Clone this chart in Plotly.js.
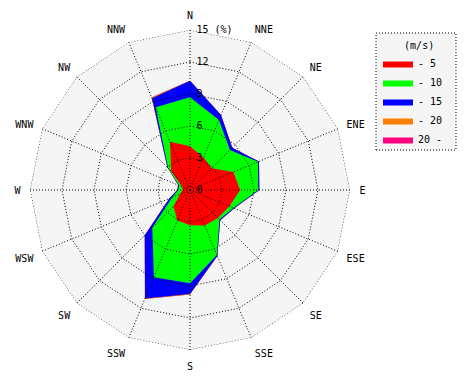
<!DOCTYPE html>
<html>
<head>
<meta charset="utf-8">
<script src="https://cdn.plot.ly/plotly-3.0.1.min.js"></script>
<style>html,body{margin:0;padding:0;background:#fff;}#chart{width:470px;height:380px;}</style>
</head>
<body>
<div id="chart"></div>
<script>
// 16 wind directions
const directions = ['N','NNE','NE','ENE','E','ESE','SE','SSE','S','SSW','SW','WSW','W','WNW','NW','NNW'];
// cumulative frequency (%) by wind-speed class upper bound
const cumUpTo5  = [4.1, 3.3, 2.9, 4.4, 4.7, 4.0, 3.7, 3.6, 3.3, 3.1, 2.2, 1.0, 0.7, 0.8, 2.5, 4.9];
const cumUpTo10 = [8.7, 7.1, 5.3, 6.9, 6.4, 4.4, 3.9, 6.6, 8.75, 8.85, 5.0, 1.8, 1.1, 1.1, 2.9, 8.4];
const cumUpTo15 = [10.25, 7.6, 5.6, 7.0, 6.5, 4.5, 4.0, 6.7, 9.75, 11.0, 6.0, 2.1, 1.2, 1.2, 3.0, 9.3];
const cumUpTo20 = [10.25, 7.6, 5.6, 7.0, 6.5, 4.5, 4.0, 6.7, 9.8, 11.05, 6.0, 2.1, 1.2, 1.2, 3.0, 9.4];
const cumAll    = [10.25, 7.6, 5.6, 7.0, 6.5, 4.5, 4.0, 6.7, 9.8, 11.05, 6.0, 2.1, 1.2, 1.2, 3.0, 9.4];
const classNames = ['- 5', '- 10', '- 15', '- 20', '20 -'];
const classColors = ['#ff0000', '#00ff00', '#0000ff', '#ff8000', '#ff0080'];
const radialTicks = [0, 3, 6, 9, 12, 15];
const radialTickText = ['0', '3', '6', '9', '12', '15 (%)'];
const radialMax = 15;

const series = [cumUpTo5, cumUpTo10, cumUpTo15, cumUpTo20, cumAll];
const close = a => a.concat([a[0]]);
const thetaClosed = close(directions);

const traces = [];
for (let i = series.length - 1; i >= 0; i--) {
  traces.push({
    type: 'scatterpolar',
    mode: 'lines',
    r: close(series[i]),
    theta: thetaClosed,
    fill: 'toself',
    fillcolor: classColors[i],
    line: {color: classColors[i], width: 0},
    name: classNames[i],
    hoverinfo: 'skip'
  });
}

// dotted grid drawn above the fills (as in the reference)
const gridLine = {color: '#000', width: 1, dash: '1px,2px'};
const ringR = [], ringT = [];
radialTicks.filter(v => v > 0).forEach(v => {
  thetaClosed.forEach(t => { ringR.push(v); ringT.push(t); });
  ringR.push(null); ringT.push(null);
});
const spokeR = [], spokeT = [];
directions.forEach(d => { spokeR.push(0, radialMax, null); spokeT.push(d, d, null); });
traces.push({type: 'scatterpolar', mode: 'lines', r: ringR, theta: ringT, line: gridLine,
  connectgaps: false, showlegend: false, hoverinfo: 'skip', cliponaxis: false});
traces.push({type: 'scatterpolar', mode: 'lines', r: spokeR, theta: spokeT, line: gridLine,
  connectgaps: false, showlegend: false, hoverinfo: 'skip', cliponaxis: false});

const font = {family: 'DejaVu Sans Mono, monospace', size: 10, color: '#000'};

const layout = {
  width: 470, height: 380,
  margin: {l: 0, r: 0, t: 0, b: 0},
  paper_bgcolor: '#ffffff',
  font: font,
  showlegend: true,
  legend: {
    x: 378/470, y: 1 - 36/380, xanchor: 'left', yanchor: 'top',
    traceorder: 'reversed',
    bgcolor: 'rgba(0,0,0,0)', borderwidth: 0,
    font: font,
    title: {text: '    (m/s)', font: font, side: 'top'}
  },
  shapes: [{
    type: 'rect', xref: 'paper', yref: 'paper',
    x0: 376/470, x1: 456/470, y0: 1 - 150/380, y1: 1 - 33/380,
    line: {color: '#000', width: 1, dash: '1px,2px'},
    fillcolor: '#f5f5f5', layer: 'below'
  }],
  polar: {
    domain: {x: [30/470, 350/470], y: [30/380, 350/380]},
    bgcolor: '#f5f5f5',
    gridshape: 'linear',
    angularaxis: {
      type: 'category', categoryarray: directions,
      direction: 'clockwise', rotation: 90,
      showline: false, ticks: 'outside', ticklen: 7, tickcolor: 'rgba(0,0,0,0)',
      showgrid: false,
      tickfont: font
    },
    radialaxis: {
      range: [0, radialMax], angle: 90, side: 'clockwise',
      tickvals: radialTicks, ticktext: radialTickText,
      showline: false, ticks: 'outside', ticklen: 4, tickcolor: 'rgba(0,0,0,0)',
      showgrid: false,
      tickfont: font, tickangle: 90
    }
  }
};

Plotly.newPlot('chart', traces, layout, {displayModeBar: false, staticPlot: true});
</script>
</body>
</html>
